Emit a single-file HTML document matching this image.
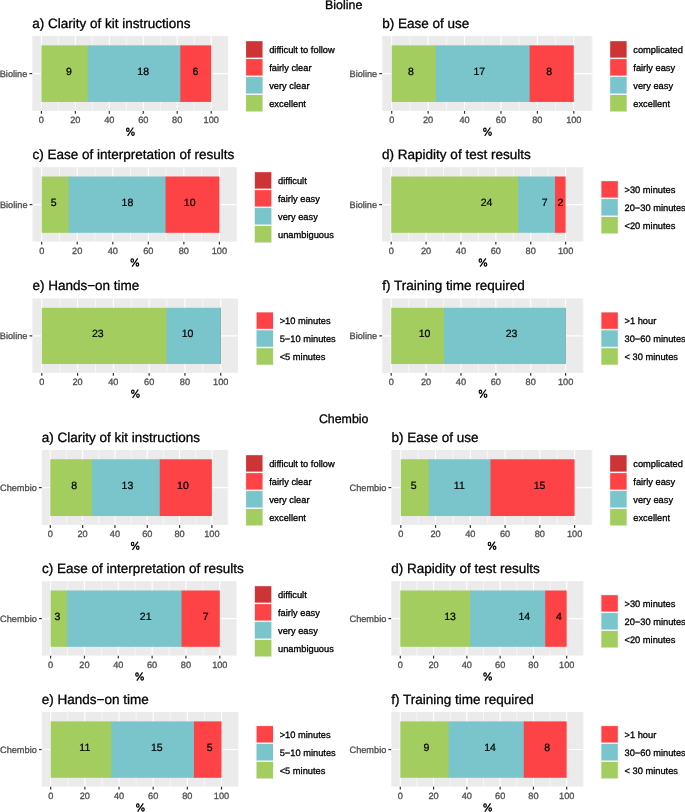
<!DOCTYPE html>
<html><head><meta charset="utf-8"><style>
html,body{margin:0;padding:0;background:#fff;}
body{width:685px;height:812px;overflow:hidden;}
svg{display:block;font-family:"Liberation Sans", sans-serif;will-change:transform;}
text{text-rendering:geometricPrecision;}
</style></head><body>
<svg width="685" height="812" viewBox="0 0 685 812">
<rect width="685" height="812" fill="#fff"/>
<rect x="32.30" y="36.00" width="195.80" height="74.80" fill="#EBEBEB"/>
<line x1="58.38" y1="36.00" x2="58.38" y2="110.80" stroke="#fff" stroke-width="0.55"/>
<line x1="92.34" y1="36.00" x2="92.34" y2="110.80" stroke="#fff" stroke-width="0.55"/>
<line x1="126.30" y1="36.00" x2="126.30" y2="110.80" stroke="#fff" stroke-width="0.55"/>
<line x1="160.26" y1="36.00" x2="160.26" y2="110.80" stroke="#fff" stroke-width="0.55"/>
<line x1="194.22" y1="36.00" x2="194.22" y2="110.80" stroke="#fff" stroke-width="0.55"/>
<line x1="41.40" y1="36.00" x2="41.40" y2="110.80" stroke="#fff" stroke-width="1.07"/>
<line x1="75.36" y1="36.00" x2="75.36" y2="110.80" stroke="#fff" stroke-width="1.07"/>
<line x1="109.32" y1="36.00" x2="109.32" y2="110.80" stroke="#fff" stroke-width="1.07"/>
<line x1="143.28" y1="36.00" x2="143.28" y2="110.80" stroke="#fff" stroke-width="1.07"/>
<line x1="177.24" y1="36.00" x2="177.24" y2="110.80" stroke="#fff" stroke-width="1.07"/>
<line x1="211.20" y1="36.00" x2="211.20" y2="110.80" stroke="#fff" stroke-width="1.07"/>
<line x1="32.30" y1="73.60" x2="228.10" y2="73.60" stroke="#fff" stroke-width="1.07"/>
<rect x="41.40" y="45.35" width="47.31" height="56.60" fill="#A3CD5E"/>
<rect x="87.71" y="45.35" width="93.62" height="56.60" fill="#7AC4CC"/>
<rect x="180.33" y="45.35" width="30.87" height="56.60" fill="#FE4346"/>
<text x="69.00" y="75.10" font-size="10.5" fill="#000" stroke="#000" stroke-width="0.22" text-anchor="middle">9</text>
<text x="143.20" y="75.10" font-size="10.5" fill="#000" stroke="#000" stroke-width="0.22" text-anchor="middle">18</text>
<text x="195.50" y="75.10" font-size="10.5" fill="#000" stroke="#000" stroke-width="0.22" text-anchor="middle">6</text>
<line x1="41.40" y1="110.90" x2="41.40" y2="113.80" stroke="#333333" stroke-width="1.2"/>
<text x="41.40" y="122.90" font-size="9.2" fill="#4D4D4D" stroke="#4D4D4D" stroke-width="0.3" text-anchor="middle">0</text>
<line x1="75.36" y1="110.90" x2="75.36" y2="113.80" stroke="#333333" stroke-width="1.2"/>
<text x="75.36" y="122.90" font-size="9.2" fill="#4D4D4D" stroke="#4D4D4D" stroke-width="0.3" text-anchor="middle">20</text>
<line x1="109.32" y1="110.90" x2="109.32" y2="113.80" stroke="#333333" stroke-width="1.2"/>
<text x="109.32" y="122.90" font-size="9.2" fill="#4D4D4D" stroke="#4D4D4D" stroke-width="0.3" text-anchor="middle">40</text>
<line x1="143.28" y1="110.90" x2="143.28" y2="113.80" stroke="#333333" stroke-width="1.2"/>
<text x="143.28" y="122.90" font-size="9.2" fill="#4D4D4D" stroke="#4D4D4D" stroke-width="0.3" text-anchor="middle">60</text>
<line x1="177.24" y1="110.90" x2="177.24" y2="113.80" stroke="#333333" stroke-width="1.2"/>
<text x="177.24" y="122.90" font-size="9.2" fill="#4D4D4D" stroke="#4D4D4D" stroke-width="0.3" text-anchor="middle">80</text>
<line x1="211.20" y1="110.90" x2="211.20" y2="113.80" stroke="#333333" stroke-width="1.2"/>
<text x="211.20" y="122.90" font-size="9.2" fill="#4D4D4D" stroke="#4D4D4D" stroke-width="0.3" text-anchor="middle">100</text>
<line x1="29.40" y1="73.60" x2="32.20" y2="73.60" stroke="#333333" stroke-width="1.2"/>
<text x="27.30" y="76.71" font-size="9.2" fill="#4D4D4D" stroke="#4D4D4D" stroke-width="0.3" text-anchor="end">Bioline</text>
<g transform="translate(130.20,136.10)" fill="none" stroke="#000" stroke-width="1.2"><ellipse cx="-2.39" cy="-6.28" rx="1.25" ry="1.65"/><ellipse cx="2.76" cy="-2.45" rx="1.25" ry="1.65"/><line x1="-2.6" y1="-0.26" x2="3.09" y2="-8.58"/></g>
<text x="32.30" y="27.70" font-size="13.5" fill="#000" stroke="#000" stroke-width="0.3" text-anchor="start">a) Clarity of kit instructions</text>
<rect x="245.34" y="40.44" width="17.93" height="17.93" fill="#F2F2F2"/>
<rect x="246.10" y="41.20" width="16.40" height="16.40" fill="#CC3435"/>
<text x="269.20" y="52.75" font-size="9.3" fill="#000" stroke="#000" stroke-width="0.3" text-anchor="start">difficult to follow</text>
<rect x="245.34" y="58.37" width="17.93" height="17.93" fill="#F2F2F2"/>
<rect x="246.10" y="59.13" width="16.40" height="16.40" fill="#FE4346"/>
<text x="269.20" y="70.68" font-size="9.3" fill="#000" stroke="#000" stroke-width="0.3" text-anchor="start">fairly clear</text>
<rect x="245.34" y="76.30" width="17.93" height="17.93" fill="#F2F2F2"/>
<rect x="246.10" y="77.06" width="16.40" height="16.40" fill="#7AC4CC"/>
<text x="269.20" y="88.61" font-size="9.3" fill="#000" stroke="#000" stroke-width="0.3" text-anchor="start">very clear</text>
<rect x="245.34" y="94.23" width="17.93" height="17.93" fill="#F2F2F2"/>
<rect x="246.10" y="94.99" width="16.40" height="16.40" fill="#A3CD5E"/>
<text x="269.20" y="106.54" font-size="9.3" fill="#000" stroke="#000" stroke-width="0.3" text-anchor="start">excellent</text>
<rect x="382.20" y="36.00" width="210.20" height="74.80" fill="#EBEBEB"/>
<line x1="409.91" y1="36.00" x2="409.91" y2="110.80" stroke="#fff" stroke-width="0.55"/>
<line x1="446.33" y1="36.00" x2="446.33" y2="110.80" stroke="#fff" stroke-width="0.55"/>
<line x1="482.75" y1="36.00" x2="482.75" y2="110.80" stroke="#fff" stroke-width="0.55"/>
<line x1="519.17" y1="36.00" x2="519.17" y2="110.80" stroke="#fff" stroke-width="0.55"/>
<line x1="555.59" y1="36.00" x2="555.59" y2="110.80" stroke="#fff" stroke-width="0.55"/>
<line x1="592.01" y1="36.00" x2="592.01" y2="110.80" stroke="#fff" stroke-width="0.55"/>
<line x1="391.70" y1="36.00" x2="391.70" y2="110.80" stroke="#fff" stroke-width="1.07"/>
<line x1="428.12" y1="36.00" x2="428.12" y2="110.80" stroke="#fff" stroke-width="1.07"/>
<line x1="464.54" y1="36.00" x2="464.54" y2="110.80" stroke="#fff" stroke-width="1.07"/>
<line x1="500.96" y1="36.00" x2="500.96" y2="110.80" stroke="#fff" stroke-width="1.07"/>
<line x1="537.38" y1="36.00" x2="537.38" y2="110.80" stroke="#fff" stroke-width="1.07"/>
<line x1="573.80" y1="36.00" x2="573.80" y2="110.80" stroke="#fff" stroke-width="1.07"/>
<line x1="382.20" y1="73.60" x2="592.40" y2="73.60" stroke="#fff" stroke-width="1.07"/>
<rect x="391.70" y="45.35" width="45.15" height="56.60" fill="#A3CD5E"/>
<rect x="435.85" y="45.35" width="94.81" height="56.60" fill="#7AC4CC"/>
<rect x="529.65" y="45.35" width="44.15" height="56.60" fill="#FE4346"/>
<text x="411.00" y="75.10" font-size="10.5" fill="#000" stroke="#000" stroke-width="0.22" text-anchor="middle">8</text>
<text x="479.30" y="75.10" font-size="10.5" fill="#000" stroke="#000" stroke-width="0.22" text-anchor="middle">17</text>
<text x="549.20" y="75.10" font-size="10.5" fill="#000" stroke="#000" stroke-width="0.22" text-anchor="middle">8</text>
<line x1="391.70" y1="110.90" x2="391.70" y2="113.80" stroke="#333333" stroke-width="1.2"/>
<text x="391.70" y="122.90" font-size="9.2" fill="#4D4D4D" stroke="#4D4D4D" stroke-width="0.3" text-anchor="middle">0</text>
<line x1="428.12" y1="110.90" x2="428.12" y2="113.80" stroke="#333333" stroke-width="1.2"/>
<text x="428.12" y="122.90" font-size="9.2" fill="#4D4D4D" stroke="#4D4D4D" stroke-width="0.3" text-anchor="middle">20</text>
<line x1="464.54" y1="110.90" x2="464.54" y2="113.80" stroke="#333333" stroke-width="1.2"/>
<text x="464.54" y="122.90" font-size="9.2" fill="#4D4D4D" stroke="#4D4D4D" stroke-width="0.3" text-anchor="middle">40</text>
<line x1="500.96" y1="110.90" x2="500.96" y2="113.80" stroke="#333333" stroke-width="1.2"/>
<text x="500.96" y="122.90" font-size="9.2" fill="#4D4D4D" stroke="#4D4D4D" stroke-width="0.3" text-anchor="middle">60</text>
<line x1="537.38" y1="110.90" x2="537.38" y2="113.80" stroke="#333333" stroke-width="1.2"/>
<text x="537.38" y="122.90" font-size="9.2" fill="#4D4D4D" stroke="#4D4D4D" stroke-width="0.3" text-anchor="middle">80</text>
<line x1="573.80" y1="110.90" x2="573.80" y2="113.80" stroke="#333333" stroke-width="1.2"/>
<text x="573.80" y="122.90" font-size="9.2" fill="#4D4D4D" stroke="#4D4D4D" stroke-width="0.3" text-anchor="middle">100</text>
<line x1="379.30" y1="73.60" x2="382.10" y2="73.60" stroke="#333333" stroke-width="1.2"/>
<text x="377.20" y="76.71" font-size="9.2" fill="#4D4D4D" stroke="#4D4D4D" stroke-width="0.3" text-anchor="end">Bioline</text>
<g transform="translate(487.30,136.10)" fill="none" stroke="#000" stroke-width="1.2"><ellipse cx="-2.39" cy="-6.28" rx="1.25" ry="1.65"/><ellipse cx="2.76" cy="-2.45" rx="1.25" ry="1.65"/><line x1="-2.6" y1="-0.26" x2="3.09" y2="-8.58"/></g>
<text x="382.20" y="27.70" font-size="13.5" fill="#000" stroke="#000" stroke-width="0.3" text-anchor="start">b) Ease of use</text>
<rect x="609.44" y="40.44" width="17.93" height="17.93" fill="#F2F2F2"/>
<rect x="610.20" y="41.20" width="16.40" height="16.40" fill="#CC3435"/>
<text x="633.30" y="52.75" font-size="9.3" fill="#000" stroke="#000" stroke-width="0.3" text-anchor="start">complicated</text>
<rect x="609.44" y="58.37" width="17.93" height="17.93" fill="#F2F2F2"/>
<rect x="610.20" y="59.13" width="16.40" height="16.40" fill="#FE4346"/>
<text x="633.30" y="70.68" font-size="9.3" fill="#000" stroke="#000" stroke-width="0.3" text-anchor="start">fairly easy</text>
<rect x="609.44" y="76.30" width="17.93" height="17.93" fill="#F2F2F2"/>
<rect x="610.20" y="77.06" width="16.40" height="16.40" fill="#7AC4CC"/>
<text x="633.30" y="88.61" font-size="9.3" fill="#000" stroke="#000" stroke-width="0.3" text-anchor="start">very easy</text>
<rect x="609.44" y="94.23" width="17.93" height="17.93" fill="#F2F2F2"/>
<rect x="610.20" y="94.99" width="16.40" height="16.40" fill="#A3CD5E"/>
<text x="633.30" y="106.54" font-size="9.3" fill="#000" stroke="#000" stroke-width="0.3" text-anchor="start">excellent</text>
<rect x="32.50" y="167.20" width="204.30" height="74.40" fill="#EBEBEB"/>
<line x1="59.47" y1="167.20" x2="59.47" y2="241.60" stroke="#fff" stroke-width="0.55"/>
<line x1="95.01" y1="167.20" x2="95.01" y2="241.60" stroke="#fff" stroke-width="0.55"/>
<line x1="130.55" y1="167.20" x2="130.55" y2="241.60" stroke="#fff" stroke-width="0.55"/>
<line x1="166.09" y1="167.20" x2="166.09" y2="241.60" stroke="#fff" stroke-width="0.55"/>
<line x1="201.63" y1="167.20" x2="201.63" y2="241.60" stroke="#fff" stroke-width="0.55"/>
<line x1="41.70" y1="167.20" x2="41.70" y2="241.60" stroke="#fff" stroke-width="1.07"/>
<line x1="77.24" y1="167.20" x2="77.24" y2="241.60" stroke="#fff" stroke-width="1.07"/>
<line x1="112.78" y1="167.20" x2="112.78" y2="241.60" stroke="#fff" stroke-width="1.07"/>
<line x1="148.32" y1="167.20" x2="148.32" y2="241.60" stroke="#fff" stroke-width="1.07"/>
<line x1="183.86" y1="167.20" x2="183.86" y2="241.60" stroke="#fff" stroke-width="1.07"/>
<line x1="219.40" y1="167.20" x2="219.40" y2="241.60" stroke="#fff" stroke-width="1.07"/>
<line x1="32.50" y1="204.60" x2="236.80" y2="204.60" stroke="#fff" stroke-width="1.07"/>
<rect x="41.70" y="176.50" width="27.92" height="56.30" fill="#A3CD5E"/>
<rect x="68.62" y="176.50" width="97.93" height="56.30" fill="#7AC4CC"/>
<rect x="165.55" y="176.50" width="53.85" height="56.30" fill="#FE4346"/>
<text x="53.70" y="206.10" font-size="10.5" fill="#000" stroke="#000" stroke-width="0.22" text-anchor="middle">5</text>
<text x="127.40" y="206.10" font-size="10.5" fill="#000" stroke="#000" stroke-width="0.22" text-anchor="middle">18</text>
<text x="189.70" y="206.10" font-size="10.5" fill="#000" stroke="#000" stroke-width="0.22" text-anchor="middle">10</text>
<line x1="41.70" y1="241.70" x2="41.70" y2="244.60" stroke="#333333" stroke-width="1.2"/>
<text x="41.70" y="253.70" font-size="9.2" fill="#4D4D4D" stroke="#4D4D4D" stroke-width="0.3" text-anchor="middle">0</text>
<line x1="77.24" y1="241.70" x2="77.24" y2="244.60" stroke="#333333" stroke-width="1.2"/>
<text x="77.24" y="253.70" font-size="9.2" fill="#4D4D4D" stroke="#4D4D4D" stroke-width="0.3" text-anchor="middle">20</text>
<line x1="112.78" y1="241.70" x2="112.78" y2="244.60" stroke="#333333" stroke-width="1.2"/>
<text x="112.78" y="253.70" font-size="9.2" fill="#4D4D4D" stroke="#4D4D4D" stroke-width="0.3" text-anchor="middle">40</text>
<line x1="148.32" y1="241.70" x2="148.32" y2="244.60" stroke="#333333" stroke-width="1.2"/>
<text x="148.32" y="253.70" font-size="9.2" fill="#4D4D4D" stroke="#4D4D4D" stroke-width="0.3" text-anchor="middle">60</text>
<line x1="183.86" y1="241.70" x2="183.86" y2="244.60" stroke="#333333" stroke-width="1.2"/>
<text x="183.86" y="253.70" font-size="9.2" fill="#4D4D4D" stroke="#4D4D4D" stroke-width="0.3" text-anchor="middle">80</text>
<line x1="219.40" y1="241.70" x2="219.40" y2="244.60" stroke="#333333" stroke-width="1.2"/>
<text x="219.40" y="253.70" font-size="9.2" fill="#4D4D4D" stroke="#4D4D4D" stroke-width="0.3" text-anchor="middle">100</text>
<line x1="29.60" y1="204.60" x2="32.40" y2="204.60" stroke="#333333" stroke-width="1.2"/>
<text x="27.50" y="207.71" font-size="9.2" fill="#4D4D4D" stroke="#4D4D4D" stroke-width="0.3" text-anchor="end">Bioline</text>
<g transform="translate(134.65,266.90)" fill="none" stroke="#000" stroke-width="1.2"><ellipse cx="-2.39" cy="-6.28" rx="1.25" ry="1.65"/><ellipse cx="2.76" cy="-2.45" rx="1.25" ry="1.65"/><line x1="-2.6" y1="-0.26" x2="3.09" y2="-8.58"/></g>
<text x="32.50" y="158.90" font-size="13.5" fill="#000" stroke="#000" stroke-width="0.3" text-anchor="start">c) Ease of interpretation of results</text>
<rect x="254.14" y="171.44" width="17.93" height="17.93" fill="#F2F2F2"/>
<rect x="254.90" y="172.20" width="16.40" height="16.40" fill="#CC3435"/>
<text x="278.00" y="183.75" font-size="9.3" fill="#000" stroke="#000" stroke-width="0.3" text-anchor="start">difficult</text>
<rect x="254.14" y="189.37" width="17.93" height="17.93" fill="#F2F2F2"/>
<rect x="254.90" y="190.13" width="16.40" height="16.40" fill="#FE4346"/>
<text x="278.00" y="201.68" font-size="9.3" fill="#000" stroke="#000" stroke-width="0.3" text-anchor="start">fairly easy</text>
<rect x="254.14" y="207.30" width="17.93" height="17.93" fill="#F2F2F2"/>
<rect x="254.90" y="208.06" width="16.40" height="16.40" fill="#7AC4CC"/>
<text x="278.00" y="219.61" font-size="9.3" fill="#000" stroke="#000" stroke-width="0.3" text-anchor="start">very easy</text>
<rect x="254.14" y="225.23" width="17.93" height="17.93" fill="#F2F2F2"/>
<rect x="254.90" y="225.99" width="16.40" height="16.40" fill="#A3CD5E"/>
<text x="278.00" y="237.54" font-size="9.3" fill="#000" stroke="#000" stroke-width="0.3" text-anchor="start">unambiguous</text>
<rect x="382.10" y="167.20" width="201.30" height="74.40" fill="#EBEBEB"/>
<line x1="408.64" y1="167.20" x2="408.64" y2="241.60" stroke="#fff" stroke-width="0.55"/>
<line x1="443.52" y1="167.20" x2="443.52" y2="241.60" stroke="#fff" stroke-width="0.55"/>
<line x1="478.40" y1="167.20" x2="478.40" y2="241.60" stroke="#fff" stroke-width="0.55"/>
<line x1="513.28" y1="167.20" x2="513.28" y2="241.60" stroke="#fff" stroke-width="0.55"/>
<line x1="548.16" y1="167.20" x2="548.16" y2="241.60" stroke="#fff" stroke-width="0.55"/>
<line x1="583.04" y1="167.20" x2="583.04" y2="241.60" stroke="#fff" stroke-width="0.55"/>
<line x1="391.20" y1="167.20" x2="391.20" y2="241.60" stroke="#fff" stroke-width="1.07"/>
<line x1="426.08" y1="167.20" x2="426.08" y2="241.60" stroke="#fff" stroke-width="1.07"/>
<line x1="460.96" y1="167.20" x2="460.96" y2="241.60" stroke="#fff" stroke-width="1.07"/>
<line x1="495.84" y1="167.20" x2="495.84" y2="241.60" stroke="#fff" stroke-width="1.07"/>
<line x1="530.72" y1="167.20" x2="530.72" y2="241.60" stroke="#fff" stroke-width="1.07"/>
<line x1="565.60" y1="167.20" x2="565.60" y2="241.60" stroke="#fff" stroke-width="1.07"/>
<line x1="382.10" y1="204.60" x2="583.40" y2="204.60" stroke="#fff" stroke-width="1.07"/>
<rect x="391.20" y="176.50" width="127.84" height="56.30" fill="#A3CD5E"/>
<rect x="518.04" y="176.50" width="37.99" height="56.30" fill="#7AC4CC"/>
<rect x="555.03" y="176.50" width="10.57" height="56.30" fill="#FE4346"/>
<text x="486.60" y="206.10" font-size="10.5" fill="#000" stroke="#000" stroke-width="0.22" text-anchor="middle">24</text>
<text x="544.60" y="206.10" font-size="10.5" fill="#000" stroke="#000" stroke-width="0.22" text-anchor="middle">7</text>
<text x="560.50" y="206.10" font-size="10.5" fill="#000" stroke="#000" stroke-width="0.22" text-anchor="middle">2</text>
<line x1="391.20" y1="241.70" x2="391.20" y2="244.60" stroke="#333333" stroke-width="1.2"/>
<text x="391.20" y="253.70" font-size="9.2" fill="#4D4D4D" stroke="#4D4D4D" stroke-width="0.3" text-anchor="middle">0</text>
<line x1="426.08" y1="241.70" x2="426.08" y2="244.60" stroke="#333333" stroke-width="1.2"/>
<text x="426.08" y="253.70" font-size="9.2" fill="#4D4D4D" stroke="#4D4D4D" stroke-width="0.3" text-anchor="middle">20</text>
<line x1="460.96" y1="241.70" x2="460.96" y2="244.60" stroke="#333333" stroke-width="1.2"/>
<text x="460.96" y="253.70" font-size="9.2" fill="#4D4D4D" stroke="#4D4D4D" stroke-width="0.3" text-anchor="middle">40</text>
<line x1="495.84" y1="241.70" x2="495.84" y2="244.60" stroke="#333333" stroke-width="1.2"/>
<text x="495.84" y="253.70" font-size="9.2" fill="#4D4D4D" stroke="#4D4D4D" stroke-width="0.3" text-anchor="middle">60</text>
<line x1="530.72" y1="241.70" x2="530.72" y2="244.60" stroke="#333333" stroke-width="1.2"/>
<text x="530.72" y="253.70" font-size="9.2" fill="#4D4D4D" stroke="#4D4D4D" stroke-width="0.3" text-anchor="middle">80</text>
<line x1="565.60" y1="241.70" x2="565.60" y2="244.60" stroke="#333333" stroke-width="1.2"/>
<text x="565.60" y="253.70" font-size="9.2" fill="#4D4D4D" stroke="#4D4D4D" stroke-width="0.3" text-anchor="middle">100</text>
<line x1="379.20" y1="204.60" x2="382.00" y2="204.60" stroke="#333333" stroke-width="1.2"/>
<text x="377.10" y="207.71" font-size="9.2" fill="#4D4D4D" stroke="#4D4D4D" stroke-width="0.3" text-anchor="end">Bioline</text>
<g transform="translate(482.75,266.90)" fill="none" stroke="#000" stroke-width="1.2"><ellipse cx="-2.39" cy="-6.28" rx="1.25" ry="1.65"/><ellipse cx="2.76" cy="-2.45" rx="1.25" ry="1.65"/><line x1="-2.6" y1="-0.26" x2="3.09" y2="-8.58"/></g>
<text x="382.10" y="158.90" font-size="13.5" fill="#000" stroke="#000" stroke-width="0.3" text-anchor="start">d) Rapidity of test results</text>
<rect x="600.64" y="180.40" width="17.93" height="17.93" fill="#F2F2F2"/>
<rect x="601.40" y="181.16" width="16.40" height="16.40" fill="#FE4346"/>
<text x="624.50" y="192.72" font-size="9.3" fill="#000" stroke="#000" stroke-width="0.3" text-anchor="start">&gt;30 minutes</text>
<rect x="600.64" y="198.33" width="17.93" height="17.93" fill="#F2F2F2"/>
<rect x="601.40" y="199.09" width="16.40" height="16.40" fill="#7AC4CC"/>
<text x="624.50" y="210.65" font-size="9.3" fill="#000" stroke="#000" stroke-width="0.3" text-anchor="start">20−30 minutes</text>
<rect x="600.64" y="216.26" width="17.93" height="17.93" fill="#F2F2F2"/>
<rect x="601.40" y="217.02" width="16.40" height="16.40" fill="#A3CD5E"/>
<text x="624.50" y="228.58" font-size="9.3" fill="#000" stroke="#000" stroke-width="0.3" text-anchor="start">&lt;20 minutes</text>
<rect x="32.40" y="298.50" width="205.60" height="74.30" fill="#EBEBEB"/>
<line x1="59.69" y1="298.50" x2="59.69" y2="372.80" stroke="#fff" stroke-width="0.55"/>
<line x1="95.47" y1="298.50" x2="95.47" y2="372.80" stroke="#fff" stroke-width="0.55"/>
<line x1="131.25" y1="298.50" x2="131.25" y2="372.80" stroke="#fff" stroke-width="0.55"/>
<line x1="167.03" y1="298.50" x2="167.03" y2="372.80" stroke="#fff" stroke-width="0.55"/>
<line x1="202.81" y1="298.50" x2="202.81" y2="372.80" stroke="#fff" stroke-width="0.55"/>
<line x1="41.80" y1="298.50" x2="41.80" y2="372.80" stroke="#fff" stroke-width="1.07"/>
<line x1="77.58" y1="298.50" x2="77.58" y2="372.80" stroke="#fff" stroke-width="1.07"/>
<line x1="113.36" y1="298.50" x2="113.36" y2="372.80" stroke="#fff" stroke-width="1.07"/>
<line x1="149.14" y1="298.50" x2="149.14" y2="372.80" stroke="#fff" stroke-width="1.07"/>
<line x1="184.92" y1="298.50" x2="184.92" y2="372.80" stroke="#fff" stroke-width="1.07"/>
<line x1="220.70" y1="298.50" x2="220.70" y2="372.80" stroke="#fff" stroke-width="1.07"/>
<line x1="32.40" y1="335.85" x2="238.00" y2="335.85" stroke="#fff" stroke-width="1.07"/>
<rect x="41.80" y="307.79" width="125.69" height="56.22" fill="#A3CD5E"/>
<rect x="166.49" y="307.79" width="54.21" height="56.22" fill="#7AC4CC"/>
<rect x="220.25" y="307.79" width="0.60" height="56.22" fill="#7d9297"/>
<text x="97.80" y="337.35" font-size="10.5" fill="#000" stroke="#000" stroke-width="0.22" text-anchor="middle">23</text>
<text x="187.60" y="337.35" font-size="10.5" fill="#000" stroke="#000" stroke-width="0.22" text-anchor="middle">10</text>
<line x1="41.80" y1="372.90" x2="41.80" y2="375.80" stroke="#333333" stroke-width="1.2"/>
<text x="41.80" y="384.90" font-size="9.2" fill="#4D4D4D" stroke="#4D4D4D" stroke-width="0.3" text-anchor="middle">0</text>
<line x1="77.58" y1="372.90" x2="77.58" y2="375.80" stroke="#333333" stroke-width="1.2"/>
<text x="77.58" y="384.90" font-size="9.2" fill="#4D4D4D" stroke="#4D4D4D" stroke-width="0.3" text-anchor="middle">20</text>
<line x1="113.36" y1="372.90" x2="113.36" y2="375.80" stroke="#333333" stroke-width="1.2"/>
<text x="113.36" y="384.90" font-size="9.2" fill="#4D4D4D" stroke="#4D4D4D" stroke-width="0.3" text-anchor="middle">40</text>
<line x1="149.14" y1="372.90" x2="149.14" y2="375.80" stroke="#333333" stroke-width="1.2"/>
<text x="149.14" y="384.90" font-size="9.2" fill="#4D4D4D" stroke="#4D4D4D" stroke-width="0.3" text-anchor="middle">60</text>
<line x1="184.92" y1="372.90" x2="184.92" y2="375.80" stroke="#333333" stroke-width="1.2"/>
<text x="184.92" y="384.90" font-size="9.2" fill="#4D4D4D" stroke="#4D4D4D" stroke-width="0.3" text-anchor="middle">80</text>
<line x1="220.70" y1="372.90" x2="220.70" y2="375.80" stroke="#333333" stroke-width="1.2"/>
<text x="220.70" y="384.90" font-size="9.2" fill="#4D4D4D" stroke="#4D4D4D" stroke-width="0.3" text-anchor="middle">100</text>
<line x1="29.50" y1="335.85" x2="32.30" y2="335.85" stroke="#333333" stroke-width="1.2"/>
<text x="27.40" y="338.96" font-size="9.2" fill="#4D4D4D" stroke="#4D4D4D" stroke-width="0.3" text-anchor="end">Bioline</text>
<g transform="translate(135.20,398.10)" fill="none" stroke="#000" stroke-width="1.2"><ellipse cx="-2.39" cy="-6.28" rx="1.25" ry="1.65"/><ellipse cx="2.76" cy="-2.45" rx="1.25" ry="1.65"/><line x1="-2.6" y1="-0.26" x2="3.09" y2="-8.58"/></g>
<text x="32.40" y="290.20" font-size="13.5" fill="#000" stroke="#000" stroke-width="0.3" text-anchor="start">e) Hands−on time</text>
<rect x="255.84" y="311.65" width="17.93" height="17.93" fill="#F2F2F2"/>
<rect x="256.60" y="312.41" width="16.40" height="16.40" fill="#FE4346"/>
<text x="279.70" y="323.97" font-size="9.3" fill="#000" stroke="#000" stroke-width="0.3" text-anchor="start">&gt;10 minutes</text>
<rect x="255.84" y="329.58" width="17.93" height="17.93" fill="#F2F2F2"/>
<rect x="256.60" y="330.34" width="16.40" height="16.40" fill="#7AC4CC"/>
<text x="279.70" y="341.90" font-size="9.3" fill="#000" stroke="#000" stroke-width="0.3" text-anchor="start">5−10 minutes</text>
<rect x="255.84" y="347.51" width="17.93" height="17.93" fill="#F2F2F2"/>
<rect x="256.60" y="348.27" width="16.40" height="16.40" fill="#A3CD5E"/>
<text x="279.70" y="359.83" font-size="9.3" fill="#000" stroke="#000" stroke-width="0.3" text-anchor="start">&lt;5 minutes</text>
<rect x="382.20" y="298.50" width="201.20" height="74.30" fill="#EBEBEB"/>
<line x1="408.64" y1="298.50" x2="408.64" y2="372.80" stroke="#fff" stroke-width="0.55"/>
<line x1="443.52" y1="298.50" x2="443.52" y2="372.80" stroke="#fff" stroke-width="0.55"/>
<line x1="478.40" y1="298.50" x2="478.40" y2="372.80" stroke="#fff" stroke-width="0.55"/>
<line x1="513.28" y1="298.50" x2="513.28" y2="372.80" stroke="#fff" stroke-width="0.55"/>
<line x1="548.16" y1="298.50" x2="548.16" y2="372.80" stroke="#fff" stroke-width="0.55"/>
<line x1="583.04" y1="298.50" x2="583.04" y2="372.80" stroke="#fff" stroke-width="0.55"/>
<line x1="391.20" y1="298.50" x2="391.20" y2="372.80" stroke="#fff" stroke-width="1.07"/>
<line x1="426.08" y1="298.50" x2="426.08" y2="372.80" stroke="#fff" stroke-width="1.07"/>
<line x1="460.96" y1="298.50" x2="460.96" y2="372.80" stroke="#fff" stroke-width="1.07"/>
<line x1="495.84" y1="298.50" x2="495.84" y2="372.80" stroke="#fff" stroke-width="1.07"/>
<line x1="530.72" y1="298.50" x2="530.72" y2="372.80" stroke="#fff" stroke-width="1.07"/>
<line x1="565.60" y1="298.50" x2="565.60" y2="372.80" stroke="#fff" stroke-width="1.07"/>
<line x1="382.20" y1="335.85" x2="583.40" y2="335.85" stroke="#fff" stroke-width="1.07"/>
<rect x="391.20" y="307.79" width="53.85" height="56.22" fill="#A3CD5E"/>
<rect x="444.05" y="307.79" width="121.55" height="56.22" fill="#7AC4CC"/>
<rect x="565.15" y="307.79" width="0.60" height="56.22" fill="#7d9297"/>
<text x="424.60" y="337.35" font-size="10.5" fill="#000" stroke="#000" stroke-width="0.22" text-anchor="middle">10</text>
<text x="511.60" y="337.35" font-size="10.5" fill="#000" stroke="#000" stroke-width="0.22" text-anchor="middle">23</text>
<line x1="391.20" y1="372.90" x2="391.20" y2="375.80" stroke="#333333" stroke-width="1.2"/>
<text x="391.20" y="384.90" font-size="9.2" fill="#4D4D4D" stroke="#4D4D4D" stroke-width="0.3" text-anchor="middle">0</text>
<line x1="426.08" y1="372.90" x2="426.08" y2="375.80" stroke="#333333" stroke-width="1.2"/>
<text x="426.08" y="384.90" font-size="9.2" fill="#4D4D4D" stroke="#4D4D4D" stroke-width="0.3" text-anchor="middle">20</text>
<line x1="460.96" y1="372.90" x2="460.96" y2="375.80" stroke="#333333" stroke-width="1.2"/>
<text x="460.96" y="384.90" font-size="9.2" fill="#4D4D4D" stroke="#4D4D4D" stroke-width="0.3" text-anchor="middle">40</text>
<line x1="495.84" y1="372.90" x2="495.84" y2="375.80" stroke="#333333" stroke-width="1.2"/>
<text x="495.84" y="384.90" font-size="9.2" fill="#4D4D4D" stroke="#4D4D4D" stroke-width="0.3" text-anchor="middle">60</text>
<line x1="530.72" y1="372.90" x2="530.72" y2="375.80" stroke="#333333" stroke-width="1.2"/>
<text x="530.72" y="384.90" font-size="9.2" fill="#4D4D4D" stroke="#4D4D4D" stroke-width="0.3" text-anchor="middle">80</text>
<line x1="565.60" y1="372.90" x2="565.60" y2="375.80" stroke="#333333" stroke-width="1.2"/>
<text x="565.60" y="384.90" font-size="9.2" fill="#4D4D4D" stroke="#4D4D4D" stroke-width="0.3" text-anchor="middle">100</text>
<line x1="379.30" y1="335.85" x2="382.10" y2="335.85" stroke="#333333" stroke-width="1.2"/>
<text x="377.20" y="338.96" font-size="9.2" fill="#4D4D4D" stroke="#4D4D4D" stroke-width="0.3" text-anchor="end">Bioline</text>
<g transform="translate(482.80,398.10)" fill="none" stroke="#000" stroke-width="1.2"><ellipse cx="-2.39" cy="-6.28" rx="1.25" ry="1.65"/><ellipse cx="2.76" cy="-2.45" rx="1.25" ry="1.65"/><line x1="-2.6" y1="-0.26" x2="3.09" y2="-8.58"/></g>
<text x="382.20" y="290.20" font-size="13.5" fill="#000" stroke="#000" stroke-width="0.3" text-anchor="start">f) Training time required</text>
<rect x="600.64" y="311.65" width="17.93" height="17.93" fill="#F2F2F2"/>
<rect x="601.40" y="312.41" width="16.40" height="16.40" fill="#FE4346"/>
<text x="624.50" y="323.97" font-size="9.3" fill="#000" stroke="#000" stroke-width="0.3" text-anchor="start">&gt;1 hour</text>
<rect x="600.64" y="329.58" width="17.93" height="17.93" fill="#F2F2F2"/>
<rect x="601.40" y="330.34" width="16.40" height="16.40" fill="#7AC4CC"/>
<text x="624.50" y="341.90" font-size="9.3" fill="#000" stroke="#000" stroke-width="0.3" text-anchor="start">30−60 minutes</text>
<rect x="600.64" y="347.51" width="17.93" height="17.93" fill="#F2F2F2"/>
<rect x="601.40" y="348.27" width="16.40" height="16.40" fill="#A3CD5E"/>
<text x="624.50" y="359.83" font-size="9.3" fill="#000" stroke="#000" stroke-width="0.3" text-anchor="start">&lt; 30 minutes</text>
<rect x="41.80" y="449.90" width="186.40" height="75.00" fill="#EBEBEB"/>
<line x1="66.46" y1="449.90" x2="66.46" y2="524.90" stroke="#fff" stroke-width="0.55"/>
<line x1="98.78" y1="449.90" x2="98.78" y2="524.90" stroke="#fff" stroke-width="0.55"/>
<line x1="131.10" y1="449.90" x2="131.10" y2="524.90" stroke="#fff" stroke-width="0.55"/>
<line x1="163.42" y1="449.90" x2="163.42" y2="524.90" stroke="#fff" stroke-width="0.55"/>
<line x1="195.74" y1="449.90" x2="195.74" y2="524.90" stroke="#fff" stroke-width="0.55"/>
<line x1="228.06" y1="449.90" x2="228.06" y2="524.90" stroke="#fff" stroke-width="0.55"/>
<line x1="50.30" y1="449.90" x2="50.30" y2="524.90" stroke="#fff" stroke-width="1.07"/>
<line x1="82.62" y1="449.90" x2="82.62" y2="524.90" stroke="#fff" stroke-width="1.07"/>
<line x1="114.94" y1="449.90" x2="114.94" y2="524.90" stroke="#fff" stroke-width="1.07"/>
<line x1="147.26" y1="449.90" x2="147.26" y2="524.90" stroke="#fff" stroke-width="1.07"/>
<line x1="179.58" y1="449.90" x2="179.58" y2="524.90" stroke="#fff" stroke-width="1.07"/>
<line x1="211.90" y1="449.90" x2="211.90" y2="524.90" stroke="#fff" stroke-width="1.07"/>
<line x1="41.80" y1="487.60" x2="228.20" y2="487.60" stroke="#fff" stroke-width="1.07"/>
<rect x="50.30" y="459.27" width="42.70" height="56.75" fill="#A3CD5E"/>
<rect x="92.00" y="459.27" width="68.77" height="56.75" fill="#7AC4CC"/>
<rect x="159.77" y="459.27" width="52.13" height="56.75" fill="#FE4346"/>
<text x="74.10" y="489.10" font-size="10.5" fill="#000" stroke="#000" stroke-width="0.22" text-anchor="middle">8</text>
<text x="127.40" y="489.10" font-size="10.5" fill="#000" stroke="#000" stroke-width="0.22" text-anchor="middle">13</text>
<text x="182.90" y="489.10" font-size="10.5" fill="#000" stroke="#000" stroke-width="0.22" text-anchor="middle">10</text>
<line x1="50.30" y1="525.00" x2="50.30" y2="527.90" stroke="#333333" stroke-width="1.2"/>
<text x="50.30" y="537.00" font-size="9.2" fill="#4D4D4D" stroke="#4D4D4D" stroke-width="0.3" text-anchor="middle">0</text>
<line x1="82.62" y1="525.00" x2="82.62" y2="527.90" stroke="#333333" stroke-width="1.2"/>
<text x="82.62" y="537.00" font-size="9.2" fill="#4D4D4D" stroke="#4D4D4D" stroke-width="0.3" text-anchor="middle">20</text>
<line x1="114.94" y1="525.00" x2="114.94" y2="527.90" stroke="#333333" stroke-width="1.2"/>
<text x="114.94" y="537.00" font-size="9.2" fill="#4D4D4D" stroke="#4D4D4D" stroke-width="0.3" text-anchor="middle">40</text>
<line x1="147.26" y1="525.00" x2="147.26" y2="527.90" stroke="#333333" stroke-width="1.2"/>
<text x="147.26" y="537.00" font-size="9.2" fill="#4D4D4D" stroke="#4D4D4D" stroke-width="0.3" text-anchor="middle">60</text>
<line x1="179.58" y1="525.00" x2="179.58" y2="527.90" stroke="#333333" stroke-width="1.2"/>
<text x="179.58" y="537.00" font-size="9.2" fill="#4D4D4D" stroke="#4D4D4D" stroke-width="0.3" text-anchor="middle">80</text>
<line x1="211.90" y1="525.00" x2="211.90" y2="527.90" stroke="#333333" stroke-width="1.2"/>
<text x="211.90" y="537.00" font-size="9.2" fill="#4D4D4D" stroke="#4D4D4D" stroke-width="0.3" text-anchor="middle">100</text>
<line x1="38.90" y1="487.60" x2="41.70" y2="487.60" stroke="#333333" stroke-width="1.2"/>
<text x="36.80" y="490.71" font-size="9.2" fill="#4D4D4D" stroke="#4D4D4D" stroke-width="0.3" text-anchor="end">Chembio</text>
<g transform="translate(135.00,550.20)" fill="none" stroke="#000" stroke-width="1.2"><ellipse cx="-2.39" cy="-6.28" rx="1.25" ry="1.65"/><ellipse cx="2.76" cy="-2.45" rx="1.25" ry="1.65"/><line x1="-2.6" y1="-0.26" x2="3.09" y2="-8.58"/></g>
<text x="41.80" y="441.60" font-size="13.5" fill="#000" stroke="#000" stroke-width="0.3" text-anchor="start">a) Clarity of kit instructions</text>
<rect x="245.34" y="454.44" width="17.93" height="17.93" fill="#F2F2F2"/>
<rect x="246.10" y="455.20" width="16.40" height="16.40" fill="#CC3435"/>
<text x="269.20" y="466.75" font-size="9.3" fill="#000" stroke="#000" stroke-width="0.3" text-anchor="start">difficult to follow</text>
<rect x="245.34" y="472.37" width="17.93" height="17.93" fill="#F2F2F2"/>
<rect x="246.10" y="473.13" width="16.40" height="16.40" fill="#FE4346"/>
<text x="269.20" y="484.68" font-size="9.3" fill="#000" stroke="#000" stroke-width="0.3" text-anchor="start">fairly clear</text>
<rect x="245.34" y="490.30" width="17.93" height="17.93" fill="#F2F2F2"/>
<rect x="246.10" y="491.06" width="16.40" height="16.40" fill="#7AC4CC"/>
<text x="269.20" y="502.61" font-size="9.3" fill="#000" stroke="#000" stroke-width="0.3" text-anchor="start">very clear</text>
<rect x="245.34" y="508.23" width="17.93" height="17.93" fill="#F2F2F2"/>
<rect x="246.10" y="508.99" width="16.40" height="16.40" fill="#A3CD5E"/>
<text x="269.20" y="520.54" font-size="9.3" fill="#000" stroke="#000" stroke-width="0.3" text-anchor="start">excellent</text>
<rect x="391.40" y="449.90" width="200.90" height="75.00" fill="#EBEBEB"/>
<line x1="418.18" y1="449.90" x2="418.18" y2="524.90" stroke="#fff" stroke-width="0.55"/>
<line x1="452.94" y1="449.90" x2="452.94" y2="524.90" stroke="#fff" stroke-width="0.55"/>
<line x1="487.70" y1="449.90" x2="487.70" y2="524.90" stroke="#fff" stroke-width="0.55"/>
<line x1="522.46" y1="449.90" x2="522.46" y2="524.90" stroke="#fff" stroke-width="0.55"/>
<line x1="557.22" y1="449.90" x2="557.22" y2="524.90" stroke="#fff" stroke-width="0.55"/>
<line x1="591.98" y1="449.90" x2="591.98" y2="524.90" stroke="#fff" stroke-width="0.55"/>
<line x1="400.80" y1="449.90" x2="400.80" y2="524.90" stroke="#fff" stroke-width="1.07"/>
<line x1="435.56" y1="449.90" x2="435.56" y2="524.90" stroke="#fff" stroke-width="1.07"/>
<line x1="470.32" y1="449.90" x2="470.32" y2="524.90" stroke="#fff" stroke-width="1.07"/>
<line x1="505.08" y1="449.90" x2="505.08" y2="524.90" stroke="#fff" stroke-width="1.07"/>
<line x1="539.84" y1="449.90" x2="539.84" y2="524.90" stroke="#fff" stroke-width="1.07"/>
<line x1="574.60" y1="449.90" x2="574.60" y2="524.90" stroke="#fff" stroke-width="1.07"/>
<line x1="391.40" y1="487.60" x2="592.30" y2="487.60" stroke="#fff" stroke-width="1.07"/>
<rect x="400.80" y="459.27" width="29.03" height="56.75" fill="#A3CD5E"/>
<rect x="428.83" y="459.27" width="62.67" height="56.75" fill="#7AC4CC"/>
<rect x="490.50" y="459.27" width="84.10" height="56.75" fill="#FE4346"/>
<text x="413.60" y="489.10" font-size="10.5" fill="#000" stroke="#000" stroke-width="0.22" text-anchor="middle">5</text>
<text x="459.30" y="489.10" font-size="10.5" fill="#000" stroke="#000" stroke-width="0.22" text-anchor="middle">11</text>
<text x="539.50" y="489.10" font-size="10.5" fill="#000" stroke="#000" stroke-width="0.22" text-anchor="middle">15</text>
<line x1="400.80" y1="525.00" x2="400.80" y2="527.90" stroke="#333333" stroke-width="1.2"/>
<text x="400.80" y="537.00" font-size="9.2" fill="#4D4D4D" stroke="#4D4D4D" stroke-width="0.3" text-anchor="middle">0</text>
<line x1="435.56" y1="525.00" x2="435.56" y2="527.90" stroke="#333333" stroke-width="1.2"/>
<text x="435.56" y="537.00" font-size="9.2" fill="#4D4D4D" stroke="#4D4D4D" stroke-width="0.3" text-anchor="middle">20</text>
<line x1="470.32" y1="525.00" x2="470.32" y2="527.90" stroke="#333333" stroke-width="1.2"/>
<text x="470.32" y="537.00" font-size="9.2" fill="#4D4D4D" stroke="#4D4D4D" stroke-width="0.3" text-anchor="middle">40</text>
<line x1="505.08" y1="525.00" x2="505.08" y2="527.90" stroke="#333333" stroke-width="1.2"/>
<text x="505.08" y="537.00" font-size="9.2" fill="#4D4D4D" stroke="#4D4D4D" stroke-width="0.3" text-anchor="middle">60</text>
<line x1="539.84" y1="525.00" x2="539.84" y2="527.90" stroke="#333333" stroke-width="1.2"/>
<text x="539.84" y="537.00" font-size="9.2" fill="#4D4D4D" stroke="#4D4D4D" stroke-width="0.3" text-anchor="middle">80</text>
<line x1="574.60" y1="525.00" x2="574.60" y2="527.90" stroke="#333333" stroke-width="1.2"/>
<text x="574.60" y="537.00" font-size="9.2" fill="#4D4D4D" stroke="#4D4D4D" stroke-width="0.3" text-anchor="middle">100</text>
<line x1="388.50" y1="487.60" x2="391.30" y2="487.60" stroke="#333333" stroke-width="1.2"/>
<text x="386.40" y="490.71" font-size="9.2" fill="#4D4D4D" stroke="#4D4D4D" stroke-width="0.3" text-anchor="end">Chembio</text>
<g transform="translate(491.85,550.20)" fill="none" stroke="#000" stroke-width="1.2"><ellipse cx="-2.39" cy="-6.28" rx="1.25" ry="1.65"/><ellipse cx="2.76" cy="-2.45" rx="1.25" ry="1.65"/><line x1="-2.6" y1="-0.26" x2="3.09" y2="-8.58"/></g>
<text x="391.40" y="441.60" font-size="13.5" fill="#000" stroke="#000" stroke-width="0.3" text-anchor="start">b) Ease of use</text>
<rect x="609.44" y="454.44" width="17.93" height="17.93" fill="#F2F2F2"/>
<rect x="610.20" y="455.20" width="16.40" height="16.40" fill="#CC3435"/>
<text x="633.30" y="466.75" font-size="9.3" fill="#000" stroke="#000" stroke-width="0.3" text-anchor="start">complicated</text>
<rect x="609.44" y="472.37" width="17.93" height="17.93" fill="#F2F2F2"/>
<rect x="610.20" y="473.13" width="16.40" height="16.40" fill="#FE4346"/>
<text x="633.30" y="484.68" font-size="9.3" fill="#000" stroke="#000" stroke-width="0.3" text-anchor="start">fairly easy</text>
<rect x="609.44" y="490.30" width="17.93" height="17.93" fill="#F2F2F2"/>
<rect x="610.20" y="491.06" width="16.40" height="16.40" fill="#7AC4CC"/>
<text x="633.30" y="502.61" font-size="9.3" fill="#000" stroke="#000" stroke-width="0.3" text-anchor="start">very easy</text>
<rect x="609.44" y="508.23" width="17.93" height="17.93" fill="#F2F2F2"/>
<rect x="610.20" y="508.99" width="16.40" height="16.40" fill="#A3CD5E"/>
<text x="633.30" y="520.54" font-size="9.3" fill="#000" stroke="#000" stroke-width="0.3" text-anchor="start">excellent</text>
<rect x="41.90" y="581.20" width="195.00" height="74.40" fill="#EBEBEB"/>
<line x1="67.52" y1="581.20" x2="67.52" y2="655.60" stroke="#fff" stroke-width="0.55"/>
<line x1="101.36" y1="581.20" x2="101.36" y2="655.60" stroke="#fff" stroke-width="0.55"/>
<line x1="135.20" y1="581.20" x2="135.20" y2="655.60" stroke="#fff" stroke-width="0.55"/>
<line x1="169.04" y1="581.20" x2="169.04" y2="655.60" stroke="#fff" stroke-width="0.55"/>
<line x1="202.88" y1="581.20" x2="202.88" y2="655.60" stroke="#fff" stroke-width="0.55"/>
<line x1="236.72" y1="581.20" x2="236.72" y2="655.60" stroke="#fff" stroke-width="0.55"/>
<line x1="50.60" y1="581.20" x2="50.60" y2="655.60" stroke="#fff" stroke-width="1.07"/>
<line x1="84.44" y1="581.20" x2="84.44" y2="655.60" stroke="#fff" stroke-width="1.07"/>
<line x1="118.28" y1="581.20" x2="118.28" y2="655.60" stroke="#fff" stroke-width="1.07"/>
<line x1="152.12" y1="581.20" x2="152.12" y2="655.60" stroke="#fff" stroke-width="1.07"/>
<line x1="185.96" y1="581.20" x2="185.96" y2="655.60" stroke="#fff" stroke-width="1.07"/>
<line x1="219.80" y1="581.20" x2="219.80" y2="655.60" stroke="#fff" stroke-width="1.07"/>
<line x1="41.90" y1="618.60" x2="236.90" y2="618.60" stroke="#fff" stroke-width="1.07"/>
<rect x="50.60" y="590.50" width="17.37" height="56.30" fill="#A3CD5E"/>
<rect x="66.97" y="590.50" width="115.62" height="56.30" fill="#7AC4CC"/>
<rect x="181.59" y="590.50" width="38.21" height="56.30" fill="#FE4346"/>
<text x="57.30" y="620.10" font-size="10.5" fill="#000" stroke="#000" stroke-width="0.22" text-anchor="middle">3</text>
<text x="145.70" y="620.10" font-size="10.5" fill="#000" stroke="#000" stroke-width="0.22" text-anchor="middle">21</text>
<text x="205.70" y="620.10" font-size="10.5" fill="#000" stroke="#000" stroke-width="0.22" text-anchor="middle">7</text>
<line x1="50.60" y1="655.70" x2="50.60" y2="658.60" stroke="#333333" stroke-width="1.2"/>
<text x="50.60" y="667.70" font-size="9.2" fill="#4D4D4D" stroke="#4D4D4D" stroke-width="0.3" text-anchor="middle">0</text>
<line x1="84.44" y1="655.70" x2="84.44" y2="658.60" stroke="#333333" stroke-width="1.2"/>
<text x="84.44" y="667.70" font-size="9.2" fill="#4D4D4D" stroke="#4D4D4D" stroke-width="0.3" text-anchor="middle">20</text>
<line x1="118.28" y1="655.70" x2="118.28" y2="658.60" stroke="#333333" stroke-width="1.2"/>
<text x="118.28" y="667.70" font-size="9.2" fill="#4D4D4D" stroke="#4D4D4D" stroke-width="0.3" text-anchor="middle">40</text>
<line x1="152.12" y1="655.70" x2="152.12" y2="658.60" stroke="#333333" stroke-width="1.2"/>
<text x="152.12" y="667.70" font-size="9.2" fill="#4D4D4D" stroke="#4D4D4D" stroke-width="0.3" text-anchor="middle">60</text>
<line x1="185.96" y1="655.70" x2="185.96" y2="658.60" stroke="#333333" stroke-width="1.2"/>
<text x="185.96" y="667.70" font-size="9.2" fill="#4D4D4D" stroke="#4D4D4D" stroke-width="0.3" text-anchor="middle">80</text>
<line x1="219.80" y1="655.70" x2="219.80" y2="658.60" stroke="#333333" stroke-width="1.2"/>
<text x="219.80" y="667.70" font-size="9.2" fill="#4D4D4D" stroke="#4D4D4D" stroke-width="0.3" text-anchor="middle">100</text>
<line x1="39.00" y1="618.60" x2="41.80" y2="618.60" stroke="#333333" stroke-width="1.2"/>
<text x="36.90" y="621.71" font-size="9.2" fill="#4D4D4D" stroke="#4D4D4D" stroke-width="0.3" text-anchor="end">Chembio</text>
<g transform="translate(139.40,680.90)" fill="none" stroke="#000" stroke-width="1.2"><ellipse cx="-2.39" cy="-6.28" rx="1.25" ry="1.65"/><ellipse cx="2.76" cy="-2.45" rx="1.25" ry="1.65"/><line x1="-2.6" y1="-0.26" x2="3.09" y2="-8.58"/></g>
<text x="41.90" y="572.90" font-size="13.5" fill="#000" stroke="#000" stroke-width="0.3" text-anchor="start">c) Ease of interpretation of results</text>
<rect x="254.14" y="585.44" width="17.93" height="17.93" fill="#F2F2F2"/>
<rect x="254.90" y="586.20" width="16.40" height="16.40" fill="#CC3435"/>
<text x="278.00" y="597.75" font-size="9.3" fill="#000" stroke="#000" stroke-width="0.3" text-anchor="start">difficult</text>
<rect x="254.14" y="603.37" width="17.93" height="17.93" fill="#F2F2F2"/>
<rect x="254.90" y="604.13" width="16.40" height="16.40" fill="#FE4346"/>
<text x="278.00" y="615.68" font-size="9.3" fill="#000" stroke="#000" stroke-width="0.3" text-anchor="start">fairly easy</text>
<rect x="254.14" y="621.30" width="17.93" height="17.93" fill="#F2F2F2"/>
<rect x="254.90" y="622.06" width="16.40" height="16.40" fill="#7AC4CC"/>
<text x="278.00" y="633.61" font-size="9.3" fill="#000" stroke="#000" stroke-width="0.3" text-anchor="start">very easy</text>
<rect x="254.14" y="639.23" width="17.93" height="17.93" fill="#F2F2F2"/>
<rect x="254.90" y="639.99" width="16.40" height="16.40" fill="#A3CD5E"/>
<text x="278.00" y="651.54" font-size="9.3" fill="#000" stroke="#000" stroke-width="0.3" text-anchor="start">unambiguous</text>
<rect x="391.30" y="581.20" width="192.30" height="74.40" fill="#EBEBEB"/>
<line x1="416.94" y1="581.20" x2="416.94" y2="655.60" stroke="#fff" stroke-width="0.55"/>
<line x1="450.22" y1="581.20" x2="450.22" y2="655.60" stroke="#fff" stroke-width="0.55"/>
<line x1="483.50" y1="581.20" x2="483.50" y2="655.60" stroke="#fff" stroke-width="0.55"/>
<line x1="516.78" y1="581.20" x2="516.78" y2="655.60" stroke="#fff" stroke-width="0.55"/>
<line x1="550.06" y1="581.20" x2="550.06" y2="655.60" stroke="#fff" stroke-width="0.55"/>
<line x1="583.34" y1="581.20" x2="583.34" y2="655.60" stroke="#fff" stroke-width="0.55"/>
<line x1="400.30" y1="581.20" x2="400.30" y2="655.60" stroke="#fff" stroke-width="1.07"/>
<line x1="433.58" y1="581.20" x2="433.58" y2="655.60" stroke="#fff" stroke-width="1.07"/>
<line x1="466.86" y1="581.20" x2="466.86" y2="655.60" stroke="#fff" stroke-width="1.07"/>
<line x1="500.14" y1="581.20" x2="500.14" y2="655.60" stroke="#fff" stroke-width="1.07"/>
<line x1="533.42" y1="581.20" x2="533.42" y2="655.60" stroke="#fff" stroke-width="1.07"/>
<line x1="566.70" y1="581.20" x2="566.70" y2="655.60" stroke="#fff" stroke-width="1.07"/>
<line x1="391.30" y1="618.60" x2="583.60" y2="618.60" stroke="#fff" stroke-width="1.07"/>
<rect x="400.30" y="590.50" width="70.78" height="56.30" fill="#A3CD5E"/>
<rect x="470.08" y="590.50" width="76.15" height="56.30" fill="#7AC4CC"/>
<rect x="545.23" y="590.50" width="21.47" height="56.30" fill="#FE4346"/>
<text x="450.10" y="620.10" font-size="10.5" fill="#000" stroke="#000" stroke-width="0.22" text-anchor="middle">13</text>
<text x="524.30" y="620.10" font-size="10.5" fill="#000" stroke="#000" stroke-width="0.22" text-anchor="middle">14</text>
<text x="559.00" y="620.10" font-size="10.5" fill="#000" stroke="#000" stroke-width="0.22" text-anchor="middle">4</text>
<line x1="400.30" y1="655.70" x2="400.30" y2="658.60" stroke="#333333" stroke-width="1.2"/>
<text x="400.30" y="667.70" font-size="9.2" fill="#4D4D4D" stroke="#4D4D4D" stroke-width="0.3" text-anchor="middle">0</text>
<line x1="433.58" y1="655.70" x2="433.58" y2="658.60" stroke="#333333" stroke-width="1.2"/>
<text x="433.58" y="667.70" font-size="9.2" fill="#4D4D4D" stroke="#4D4D4D" stroke-width="0.3" text-anchor="middle">20</text>
<line x1="466.86" y1="655.70" x2="466.86" y2="658.60" stroke="#333333" stroke-width="1.2"/>
<text x="466.86" y="667.70" font-size="9.2" fill="#4D4D4D" stroke="#4D4D4D" stroke-width="0.3" text-anchor="middle">40</text>
<line x1="500.14" y1="655.70" x2="500.14" y2="658.60" stroke="#333333" stroke-width="1.2"/>
<text x="500.14" y="667.70" font-size="9.2" fill="#4D4D4D" stroke="#4D4D4D" stroke-width="0.3" text-anchor="middle">60</text>
<line x1="533.42" y1="655.70" x2="533.42" y2="658.60" stroke="#333333" stroke-width="1.2"/>
<text x="533.42" y="667.70" font-size="9.2" fill="#4D4D4D" stroke="#4D4D4D" stroke-width="0.3" text-anchor="middle">80</text>
<line x1="566.70" y1="655.70" x2="566.70" y2="658.60" stroke="#333333" stroke-width="1.2"/>
<text x="566.70" y="667.70" font-size="9.2" fill="#4D4D4D" stroke="#4D4D4D" stroke-width="0.3" text-anchor="middle">100</text>
<line x1="388.40" y1="618.60" x2="391.20" y2="618.60" stroke="#333333" stroke-width="1.2"/>
<text x="386.30" y="621.71" font-size="9.2" fill="#4D4D4D" stroke="#4D4D4D" stroke-width="0.3" text-anchor="end">Chembio</text>
<g transform="translate(487.45,680.90)" fill="none" stroke="#000" stroke-width="1.2"><ellipse cx="-2.39" cy="-6.28" rx="1.25" ry="1.65"/><ellipse cx="2.76" cy="-2.45" rx="1.25" ry="1.65"/><line x1="-2.6" y1="-0.26" x2="3.09" y2="-8.58"/></g>
<text x="391.30" y="572.90" font-size="13.5" fill="#000" stroke="#000" stroke-width="0.3" text-anchor="start">d) Rapidity of test results</text>
<rect x="600.64" y="594.41" width="17.93" height="17.93" fill="#F2F2F2"/>
<rect x="601.40" y="595.17" width="16.40" height="16.40" fill="#FE4346"/>
<text x="624.50" y="606.72" font-size="9.3" fill="#000" stroke="#000" stroke-width="0.3" text-anchor="start">&gt;30 minutes</text>
<rect x="600.64" y="612.34" width="17.93" height="17.93" fill="#F2F2F2"/>
<rect x="601.40" y="613.10" width="16.40" height="16.40" fill="#7AC4CC"/>
<text x="624.50" y="624.65" font-size="9.3" fill="#000" stroke="#000" stroke-width="0.3" text-anchor="start">20−30 minutes</text>
<rect x="600.64" y="630.27" width="17.93" height="17.93" fill="#F2F2F2"/>
<rect x="601.40" y="631.03" width="16.40" height="16.40" fill="#A3CD5E"/>
<text x="624.50" y="642.58" font-size="9.3" fill="#000" stroke="#000" stroke-width="0.3" text-anchor="start">&lt;20 minutes</text>
<rect x="41.80" y="712.05" width="196.80" height="74.55" fill="#EBEBEB"/>
<line x1="67.78" y1="712.05" x2="67.78" y2="786.60" stroke="#fff" stroke-width="0.55"/>
<line x1="101.94" y1="712.05" x2="101.94" y2="786.60" stroke="#fff" stroke-width="0.55"/>
<line x1="136.10" y1="712.05" x2="136.10" y2="786.60" stroke="#fff" stroke-width="0.55"/>
<line x1="170.26" y1="712.05" x2="170.26" y2="786.60" stroke="#fff" stroke-width="0.55"/>
<line x1="204.42" y1="712.05" x2="204.42" y2="786.60" stroke="#fff" stroke-width="0.55"/>
<line x1="238.58" y1="712.05" x2="238.58" y2="786.60" stroke="#fff" stroke-width="0.55"/>
<line x1="50.70" y1="712.05" x2="50.70" y2="786.60" stroke="#fff" stroke-width="1.07"/>
<line x1="84.86" y1="712.05" x2="84.86" y2="786.60" stroke="#fff" stroke-width="1.07"/>
<line x1="119.02" y1="712.05" x2="119.02" y2="786.60" stroke="#fff" stroke-width="1.07"/>
<line x1="153.18" y1="712.05" x2="153.18" y2="786.60" stroke="#fff" stroke-width="1.07"/>
<line x1="187.34" y1="712.05" x2="187.34" y2="786.60" stroke="#fff" stroke-width="1.07"/>
<line x1="221.50" y1="712.05" x2="221.50" y2="786.60" stroke="#fff" stroke-width="1.07"/>
<line x1="41.80" y1="749.53" x2="238.60" y2="749.53" stroke="#fff" stroke-width="1.07"/>
<rect x="50.70" y="721.37" width="61.61" height="56.41" fill="#A3CD5E"/>
<rect x="111.31" y="721.37" width="83.65" height="56.41" fill="#7AC4CC"/>
<rect x="193.95" y="721.37" width="27.55" height="56.41" fill="#FE4346"/>
<text x="84.80" y="751.03" font-size="10.5" fill="#000" stroke="#000" stroke-width="0.22" text-anchor="middle">11</text>
<text x="156.80" y="751.03" font-size="10.5" fill="#000" stroke="#000" stroke-width="0.22" text-anchor="middle">15</text>
<text x="209.60" y="751.03" font-size="10.5" fill="#000" stroke="#000" stroke-width="0.22" text-anchor="middle">5</text>
<line x1="50.70" y1="786.70" x2="50.70" y2="789.60" stroke="#333333" stroke-width="1.2"/>
<text x="50.70" y="798.70" font-size="9.2" fill="#4D4D4D" stroke="#4D4D4D" stroke-width="0.3" text-anchor="middle">0</text>
<line x1="84.86" y1="786.70" x2="84.86" y2="789.60" stroke="#333333" stroke-width="1.2"/>
<text x="84.86" y="798.70" font-size="9.2" fill="#4D4D4D" stroke="#4D4D4D" stroke-width="0.3" text-anchor="middle">20</text>
<line x1="119.02" y1="786.70" x2="119.02" y2="789.60" stroke="#333333" stroke-width="1.2"/>
<text x="119.02" y="798.70" font-size="9.2" fill="#4D4D4D" stroke="#4D4D4D" stroke-width="0.3" text-anchor="middle">40</text>
<line x1="153.18" y1="786.70" x2="153.18" y2="789.60" stroke="#333333" stroke-width="1.2"/>
<text x="153.18" y="798.70" font-size="9.2" fill="#4D4D4D" stroke="#4D4D4D" stroke-width="0.3" text-anchor="middle">60</text>
<line x1="187.34" y1="786.70" x2="187.34" y2="789.60" stroke="#333333" stroke-width="1.2"/>
<text x="187.34" y="798.70" font-size="9.2" fill="#4D4D4D" stroke="#4D4D4D" stroke-width="0.3" text-anchor="middle">80</text>
<line x1="221.50" y1="786.70" x2="221.50" y2="789.60" stroke="#333333" stroke-width="1.2"/>
<text x="221.50" y="798.70" font-size="9.2" fill="#4D4D4D" stroke="#4D4D4D" stroke-width="0.3" text-anchor="middle">100</text>
<line x1="38.90" y1="749.53" x2="41.70" y2="749.53" stroke="#333333" stroke-width="1.2"/>
<text x="36.80" y="752.64" font-size="9.2" fill="#4D4D4D" stroke="#4D4D4D" stroke-width="0.3" text-anchor="end">Chembio</text>
<g transform="translate(140.20,811.90)" fill="none" stroke="#000" stroke-width="1.2"><ellipse cx="-2.39" cy="-6.28" rx="1.25" ry="1.65"/><ellipse cx="2.76" cy="-2.45" rx="1.25" ry="1.65"/><line x1="-2.6" y1="-0.26" x2="3.09" y2="-8.58"/></g>
<text x="41.80" y="703.75" font-size="13.5" fill="#000" stroke="#000" stroke-width="0.3" text-anchor="start">e) Hands−on time</text>
<rect x="255.84" y="725.33" width="17.93" height="17.93" fill="#F2F2F2"/>
<rect x="256.60" y="726.09" width="16.40" height="16.40" fill="#FE4346"/>
<text x="279.70" y="737.64" font-size="9.3" fill="#000" stroke="#000" stroke-width="0.3" text-anchor="start">&gt;10 minutes</text>
<rect x="255.84" y="743.26" width="17.93" height="17.93" fill="#F2F2F2"/>
<rect x="256.60" y="744.02" width="16.40" height="16.40" fill="#7AC4CC"/>
<text x="279.70" y="755.57" font-size="9.3" fill="#000" stroke="#000" stroke-width="0.3" text-anchor="start">5−10 minutes</text>
<rect x="255.84" y="761.19" width="17.93" height="17.93" fill="#F2F2F2"/>
<rect x="256.60" y="761.95" width="16.40" height="16.40" fill="#A3CD5E"/>
<text x="279.70" y="773.50" font-size="9.3" fill="#000" stroke="#000" stroke-width="0.3" text-anchor="start">&lt;5 minutes</text>
<rect x="391.30" y="712.05" width="192.30" height="74.55" fill="#EBEBEB"/>
<line x1="416.94" y1="712.05" x2="416.94" y2="786.60" stroke="#fff" stroke-width="0.55"/>
<line x1="450.22" y1="712.05" x2="450.22" y2="786.60" stroke="#fff" stroke-width="0.55"/>
<line x1="483.50" y1="712.05" x2="483.50" y2="786.60" stroke="#fff" stroke-width="0.55"/>
<line x1="516.78" y1="712.05" x2="516.78" y2="786.60" stroke="#fff" stroke-width="0.55"/>
<line x1="550.06" y1="712.05" x2="550.06" y2="786.60" stroke="#fff" stroke-width="0.55"/>
<line x1="583.34" y1="712.05" x2="583.34" y2="786.60" stroke="#fff" stroke-width="0.55"/>
<line x1="400.30" y1="712.05" x2="400.30" y2="786.60" stroke="#fff" stroke-width="1.07"/>
<line x1="433.58" y1="712.05" x2="433.58" y2="786.60" stroke="#fff" stroke-width="1.07"/>
<line x1="466.86" y1="712.05" x2="466.86" y2="786.60" stroke="#fff" stroke-width="1.07"/>
<line x1="500.14" y1="712.05" x2="500.14" y2="786.60" stroke="#fff" stroke-width="1.07"/>
<line x1="533.42" y1="712.05" x2="533.42" y2="786.60" stroke="#fff" stroke-width="1.07"/>
<line x1="566.70" y1="712.05" x2="566.70" y2="786.60" stroke="#fff" stroke-width="1.07"/>
<line x1="391.30" y1="749.53" x2="583.60" y2="749.53" stroke="#fff" stroke-width="1.07"/>
<rect x="400.30" y="721.37" width="49.31" height="56.41" fill="#A3CD5E"/>
<rect x="448.61" y="721.37" width="76.15" height="56.41" fill="#7AC4CC"/>
<rect x="523.76" y="721.37" width="42.94" height="56.41" fill="#FE4346"/>
<text x="426.30" y="751.03" font-size="10.5" fill="#000" stroke="#000" stroke-width="0.22" text-anchor="middle">9</text>
<text x="490.10" y="751.03" font-size="10.5" fill="#000" stroke="#000" stroke-width="0.22" text-anchor="middle">14</text>
<text x="547.20" y="751.03" font-size="10.5" fill="#000" stroke="#000" stroke-width="0.22" text-anchor="middle">8</text>
<line x1="400.30" y1="786.70" x2="400.30" y2="789.60" stroke="#333333" stroke-width="1.2"/>
<text x="400.30" y="798.70" font-size="9.2" fill="#4D4D4D" stroke="#4D4D4D" stroke-width="0.3" text-anchor="middle">0</text>
<line x1="433.58" y1="786.70" x2="433.58" y2="789.60" stroke="#333333" stroke-width="1.2"/>
<text x="433.58" y="798.70" font-size="9.2" fill="#4D4D4D" stroke="#4D4D4D" stroke-width="0.3" text-anchor="middle">20</text>
<line x1="466.86" y1="786.70" x2="466.86" y2="789.60" stroke="#333333" stroke-width="1.2"/>
<text x="466.86" y="798.70" font-size="9.2" fill="#4D4D4D" stroke="#4D4D4D" stroke-width="0.3" text-anchor="middle">40</text>
<line x1="500.14" y1="786.70" x2="500.14" y2="789.60" stroke="#333333" stroke-width="1.2"/>
<text x="500.14" y="798.70" font-size="9.2" fill="#4D4D4D" stroke="#4D4D4D" stroke-width="0.3" text-anchor="middle">60</text>
<line x1="533.42" y1="786.70" x2="533.42" y2="789.60" stroke="#333333" stroke-width="1.2"/>
<text x="533.42" y="798.70" font-size="9.2" fill="#4D4D4D" stroke="#4D4D4D" stroke-width="0.3" text-anchor="middle">80</text>
<line x1="566.70" y1="786.70" x2="566.70" y2="789.60" stroke="#333333" stroke-width="1.2"/>
<text x="566.70" y="798.70" font-size="9.2" fill="#4D4D4D" stroke="#4D4D4D" stroke-width="0.3" text-anchor="middle">100</text>
<line x1="388.40" y1="749.53" x2="391.20" y2="749.53" stroke="#333333" stroke-width="1.2"/>
<text x="386.30" y="752.64" font-size="9.2" fill="#4D4D4D" stroke="#4D4D4D" stroke-width="0.3" text-anchor="end">Chembio</text>
<g transform="translate(487.45,811.90)" fill="none" stroke="#000" stroke-width="1.2"><ellipse cx="-2.39" cy="-6.28" rx="1.25" ry="1.65"/><ellipse cx="2.76" cy="-2.45" rx="1.25" ry="1.65"/><line x1="-2.6" y1="-0.26" x2="3.09" y2="-8.58"/></g>
<text x="391.30" y="703.75" font-size="13.5" fill="#000" stroke="#000" stroke-width="0.3" text-anchor="start">f) Training time required</text>
<rect x="600.64" y="725.33" width="17.93" height="17.93" fill="#F2F2F2"/>
<rect x="601.40" y="726.09" width="16.40" height="16.40" fill="#FE4346"/>
<text x="624.50" y="737.64" font-size="9.3" fill="#000" stroke="#000" stroke-width="0.3" text-anchor="start">&gt;1 hour</text>
<rect x="600.64" y="743.26" width="17.93" height="17.93" fill="#F2F2F2"/>
<rect x="601.40" y="744.02" width="16.40" height="16.40" fill="#7AC4CC"/>
<text x="624.50" y="755.57" font-size="9.3" fill="#000" stroke="#000" stroke-width="0.3" text-anchor="start">30−60 minutes</text>
<rect x="600.64" y="761.19" width="17.93" height="17.93" fill="#F2F2F2"/>
<rect x="601.40" y="761.95" width="16.40" height="16.40" fill="#A3CD5E"/>
<text x="624.50" y="773.50" font-size="9.3" fill="#000" stroke="#000" stroke-width="0.3" text-anchor="start">&lt; 30 minutes</text>
<text x="343.70" y="8.80" font-size="12.4" fill="#000" stroke="#000" stroke-width="0.3" text-anchor="middle">Bioline</text>
<text x="343.70" y="423.40" font-size="12.4" fill="#000" stroke="#000" stroke-width="0.3" text-anchor="middle">Chembio</text>
</svg>
</body></html>
